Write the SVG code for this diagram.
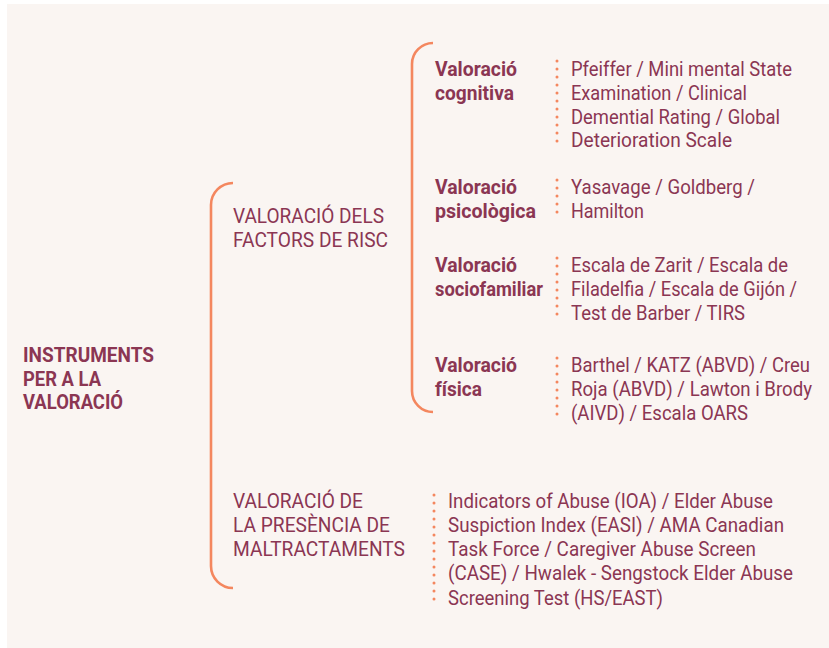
<svg xmlns="http://www.w3.org/2000/svg" width="829" height="648" viewBox="0 0 829 648">
<style>
text{font-family:"Liberation Sans Narrow","Roboto","Liberation Sans",sans-serif;font-size:19.5px;fill:#8b3653}
.b{font-weight:bold}
.br{fill:none;stroke:#f4875f;stroke-width:2.6}
.dot{fill:none;stroke:#f4875f;stroke-width:3;stroke-linecap:round;stroke-dasharray:0 8}
</style>
<rect x="0" y="0" width="829" height="648" fill="#ffffff"/>
<rect x="7" y="4" width="822" height="644" fill="#faf5f2"/>
<g id="connectors">
<path class="br" d="M233,183 A22,22 0 0 0 211,205 L211,566 A22,22 0 0 0 233,588"/>
<path class="br" d="M433,43 A21,21 0 0 0 412,64 L412,391 A21,21 0 0 0 433,412"/>
<path class="dot" d="M557,61 V149"/>
<path class="dot" d="M557,180 V220"/>
<path class="dot" d="M557,258 V322"/>
<path class="dot" d="M557,358 V422"/>
<path class="dot" d="M434,495 V603"/>
</g>
<g id="root">
<text class="b" x="23" y="362" textLength="131" lengthAdjust="spacingAndGlyphs">INSTRUMENTS</text>
<text class="b" x="23" y="386" textLength="78" lengthAdjust="spacingAndGlyphs">PER A LA</text>
<text class="b" x="23" y="409" textLength="100" lengthAdjust="spacingAndGlyphs">VALORACIÓ</text>
</g>
<g id="factors">
<text x="233" y="223" textLength="151" lengthAdjust="spacingAndGlyphs">VALORACIÓ DELS</text>
<text x="233" y="247" textLength="155" lengthAdjust="spacingAndGlyphs">FACTORS DE RISC</text>
</g>
<g id="maltractaments">
<text x="233" y="508" textLength="130" lengthAdjust="spacingAndGlyphs">VALORACIÓ DE</text>
<text x="233" y="532" textLength="157" lengthAdjust="spacingAndGlyphs">LA PRESÈNCIA DE</text>
<text x="233" y="556" textLength="172" lengthAdjust="spacingAndGlyphs">MALTRACTAMENTS</text>
<text x="448" y="508" textLength="325" lengthAdjust="spacingAndGlyphs">Indicators of Abuse (IOA) / Elder Abuse</text>
<text x="448" y="532" textLength="336" lengthAdjust="spacingAndGlyphs">Suspiction Index (EASI) / AMA Canadian</text>
<text x="448" y="556" textLength="308" lengthAdjust="spacingAndGlyphs">Task Force / Caregiver Abuse Screen</text>
<text x="448" y="580" textLength="345" lengthAdjust="spacingAndGlyphs">(CASE) / Hwalek - Sengstock Elder Abuse</text>
<text x="448" y="605" textLength="215" lengthAdjust="spacingAndGlyphs">Screening Test (HS/EAST)</text>
</g>
<g id="cognitiva">
<text class="b" x="435" y="76" textLength="82" lengthAdjust="spacingAndGlyphs">Valoració</text>
<text class="b" x="435" y="100" textLength="79" lengthAdjust="spacingAndGlyphs">cognitiva</text>
<text x="571" y="76" textLength="221" lengthAdjust="spacingAndGlyphs">Pfeiffer / Mini mental State</text>
<text x="571" y="100" textLength="176" lengthAdjust="spacingAndGlyphs">Examination / Clinical</text>
<text x="571" y="124" textLength="209" lengthAdjust="spacingAndGlyphs">Demential Rating / Global</text>
<text x="571" y="147" textLength="161" lengthAdjust="spacingAndGlyphs">Deterioration Scale</text>
</g>
<g id="psicologica">
<text class="b" x="435" y="194" textLength="82" lengthAdjust="spacingAndGlyphs">Valoració</text>
<text class="b" x="435" y="218" textLength="101" lengthAdjust="spacingAndGlyphs">psicològica</text>
<text x="571" y="194" textLength="184" lengthAdjust="spacingAndGlyphs">Yasavage / Goldberg /</text>
<text x="571" y="218" textLength="73" lengthAdjust="spacingAndGlyphs">Hamilton</text>
</g>
<g id="sociofamiliar">
<text class="b" x="435" y="272" textLength="82" lengthAdjust="spacingAndGlyphs">Valoració</text>
<text class="b" x="435" y="296" textLength="108" lengthAdjust="spacingAndGlyphs">sociofamiliar</text>
<text x="571" y="272" textLength="217" lengthAdjust="spacingAndGlyphs">Escala de Zarit / Escala de</text>
<text x="571" y="296" textLength="226" lengthAdjust="spacingAndGlyphs">Filadelfia / Escala de Gijón /</text>
<text x="571" y="320" textLength="174" lengthAdjust="spacingAndGlyphs">Test de Barber / TIRS</text>
</g>
<g id="fisica">
<text class="b" x="435" y="372" textLength="82" lengthAdjust="spacingAndGlyphs">Valoració</text>
<text class="b" x="435" y="396" textLength="47" lengthAdjust="spacingAndGlyphs">física</text>
<text x="571" y="372" textLength="239" lengthAdjust="spacingAndGlyphs">Barthel / KATZ (ABVD) / Creu</text>
<text x="571" y="396" textLength="241" lengthAdjust="spacingAndGlyphs">Roja (ABVD) / Lawton i Brody</text>
<text x="571" y="420" textLength="177" lengthAdjust="spacingAndGlyphs">(AIVD) / Escala OARS</text>
</g>
</svg>
